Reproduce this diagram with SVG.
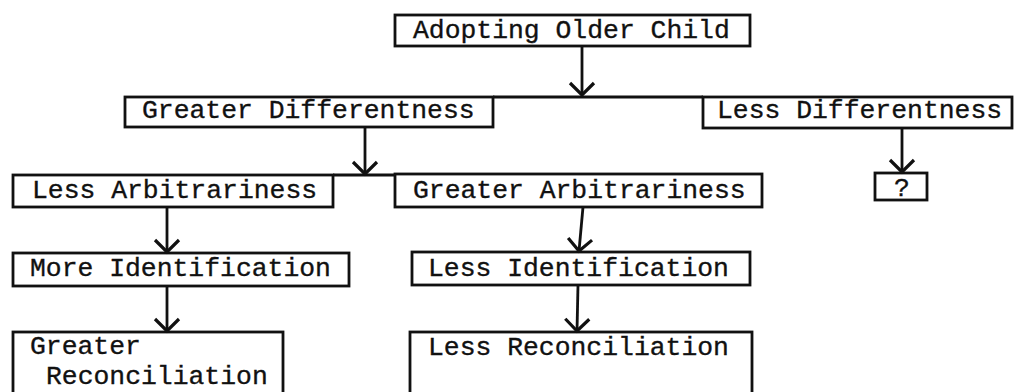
<svg xmlns="http://www.w3.org/2000/svg" width="1017" height="392" viewBox="0 0 1017 392">
  <style>
    .box { fill: none; stroke: #111; stroke-width: 2.8; }
    .lbl { font-family: "Liberation Mono", "Courier New", monospace; font-size: 26.4px; fill: #111; stroke: #111; stroke-width: 0.35; }
    .conn { fill: none; stroke: #111; stroke-width: 2.8; }
  </style>
  <defs>
    <marker id="arr" viewBox="-16 -16 32 32" refX="0" refY="0" markerWidth="32" markerHeight="32" orient="auto" markerUnits="userSpaceOnUse">
      <path d="M-12,-12 L0,0 L-12,12" fill="none" stroke="#111" stroke-width="3.2"/>
    </marker>
  </defs>
  <rect width="1017" height="392" fill="#fff"/>

  <g id="n1">
    <rect class="box" x="395" y="15" width="355" height="31"/>
    <text class="lbl" x="413" y="38">Adopting Older Child</text>
  </g>
  <g id="n2">
    <rect class="box" x="125" y="97" width="368" height="30"/>
    <text class="lbl" x="142" y="118">Greater Differentness</text>
  </g>
  <g id="n3">
    <rect class="box" x="703" y="97" width="309" height="31"/>
    <text class="lbl" x="717" y="118">Less Differentness</text>
  </g>
  <g id="n4">
    <rect class="box" x="13" y="175" width="320" height="32"/>
    <text class="lbl" x="32" y="198">Less Arbitrariness</text>
  </g>
  <g id="n5">
    <rect class="box" x="395" y="174" width="367" height="33"/>
    <text class="lbl" x="413" y="198">Greater Arbitrariness</text>
  </g>
  <g id="n6">
    <rect class="box" x="875" y="173" width="52" height="27"/>
    <text class="lbl" x="894" y="196">?</text>
  </g>
  <g id="n7">
    <rect class="box" x="13" y="253" width="336" height="33"/>
    <text class="lbl" x="30" y="276">More Identification</text>
  </g>
  <g id="n8">
    <rect class="box" x="412" y="252" width="338" height="33"/>
    <text class="lbl" x="428" y="276">Less Identification</text>
  </g>
  <g id="n9">
    <rect class="box" x="13" y="332" width="270" height="80"/>
    <text class="lbl" x="30" y="354">Greater</text>
    <text class="lbl" x="46" y="384">Reconciliation</text>
  </g>
  <g id="n10">
    <rect class="box" x="410" y="332" width="342" height="80"/>
    <text class="lbl" x="428" y="355">Less Reconciliation</text>
  </g>

  <g id="connectors">
    <line class="conn" x1="493" y1="97" x2="703" y2="97"/>
    <line class="conn" x1="333" y1="175" x2="395" y2="175"/>
    <line class="conn" x1="582" y1="46" x2="582" y2="95" marker-end="url(#arr)"/>
    <line class="conn" x1="365" y1="127" x2="365" y2="174" marker-end="url(#arr)"/>
    <line class="conn" x1="902" y1="128" x2="902" y2="172" marker-end="url(#arr)"/>
    <line class="conn" x1="167" y1="207" x2="167" y2="252" marker-end="url(#arr)"/>
    <line class="conn" x1="583" y1="207" x2="579" y2="251" marker-end="url(#arr)"/>
    <line class="conn" x1="167" y1="286" x2="167" y2="331" marker-end="url(#arr)"/>
    <line class="conn" x1="578" y1="285" x2="577" y2="331" marker-end="url(#arr)"/>
  </g>
</svg>
